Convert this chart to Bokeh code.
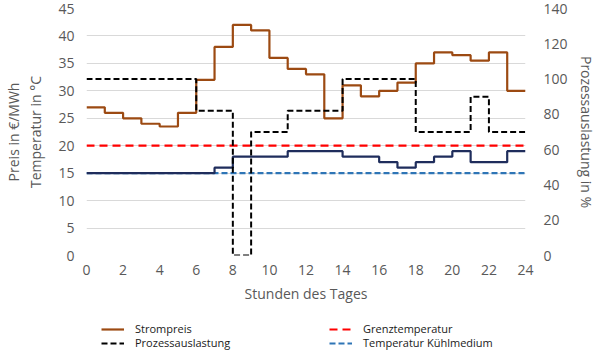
from bokeh.plotting import figure
from bokeh.layouts import column
from bokeh.models import Range1d, LinearAxis, Legend, LegendItem, FixedTicker
from bokeh.embed import file_html
from bokeh.resources import INLINE

hours = list(range(25))
strompreis = [27, 26, 25, 24, 23.5, 26, 32, 38, 42, 41, 36, 34, 33, 25, 31, 29, 30, 31.5,
              35, 37, 36.5, 35.5, 37, 30]
auslastung = [100, 100, 100, 100, 100, 100, 82, 82, 0, 70, 70, 82, 82, 82, 100, 100, 100, 100,
              70, 70, 70, 90, 70, 70]
temperatur = [15, 15, 15, 15, 15, 15, 15, 16, 18, 18, 18, 19, 19, 19, 18, 18, 17, 16,
              17, 18, 19, 17, 17, 19]
grenztemperatur = [20] * 24
kuehlmedium = [15] * 24
x_ticks = list(range(0, 25, 2))
left_ticks = list(range(0, 46, 5))
right_ticks = list(range(0, 141, 20))

FONT = "Open Sans"
TXT = "#595959"

p = figure(width=600, height=308, output_backend="svg", toolbar_location=None,
           x_range=Range1d(0, 24), y_range=Range1d(0, 45),
           min_border_left=86, min_border_right=75, min_border_top=8, min_border_bottom=53)
p.extra_y_ranges = {"pct": Range1d(0, 140)}

def ext(v):
    return v + [v[-1]]

STYLES = {
    "strom": dict(line_color="#9C4A12", line_width=2.2),
    "grenz": dict(line_color="#FF0000", line_width=2.2, line_dash="8 5"),
    "kuehl": dict(line_color="#2E75B6", line_width=2.2, line_dash="6 3"),
    "temp": dict(line_color="#1F2D5C", line_width=2.2),
    "ausl": dict(line_color="#000000", line_width=2, line_dash="6 3"),
}
SERIES = {"strom": strompreis, "grenz": grenztemperatur, "kuehl": kuehlmedium,
          "temp": temperatur, "ausl": auslastung}

for k in ["strom", "grenz", "kuehl", "temp"]:
    p.step(hours, ext(SERIES[k]), mode="after", **STYLES[k])
p.step(hours, ext(auslastung), mode="after", y_range_name="pct", **STYLES["ausl"])

p.outline_line_color = None
p.xgrid.grid_line_color = None
p.ygrid.grid_line_color = "#D9D9D9"
p.ygrid.ticker = FixedTicker(ticks=left_ticks)

p.xaxis.ticker = FixedTicker(ticks=x_ticks)
p.yaxis.ticker = FixedTicker(ticks=left_ticks)
p.xaxis.axis_label = "Stunden des Tages"
p.yaxis.axis_label = "Preis in €/MWh\nTemperatur in °C"

ax_r = LinearAxis(y_range_name="pct", ticker=FixedTicker(ticks=right_ticks),
                  axis_label="Prozessauslastung in %")
p.add_layout(ax_r, "right")

for ax in [p.xaxis[0], p.yaxis[0], ax_r]:
    ax.axis_line_color = None
    ax.major_tick_line_color = None
    ax.minor_tick_line_color = None
    ax.major_tick_out = 0
    ax.major_tick_in = 0
    ax.major_label_text_font = FONT
    ax.major_label_text_font_size = "14px"
    ax.major_label_text_color = TXT
    ax.axis_label_text_font = FONT
    ax.axis_label_text_font_size = "14px"
    ax.axis_label_text_color = TXT
    ax.axis_label_text_font_style = "normal"

p.xaxis.major_label_standoff = 9
p.xaxis.axis_label_standoff = 6
p.yaxis.major_label_standoff = 12
p.yaxis.axis_label_standoff = 10
ax_r.major_label_standoff = 18
ax_r.axis_label_standoff = 6

# legend strip below the chart; its series lie outside its (empty) view range
lf = figure(width=600, height=42, output_backend="svg", toolbar_location=None,
            x_range=Range1d(0, 24), y_range=Range1d(-1000, -999),
            x_axis_type=None, y_axis_type=None,
            min_border_left=0, min_border_right=0, min_border_top=0, min_border_bottom=0)
lf.outline_line_color = None
lf.grid.grid_line_color = None
proxy = {k: lf.line(hours, ext(SERIES[k]), **STYLES[k]) for k in STYLES}

legend_rows = [
    ([("Strompreis", "strom"), ("Grenztemperatur", "grenz")], 14),
    ([("Prozessauslastung", "ausl"), ("Temperatur Kühlmedium", "kuehl")], 0),
]
for row, vy in legend_rows:
    lg = Legend(items=[LegendItem(label=t, renderers=[proxy[k]]) for t, k in row],
                orientation="horizontal", location=(15, vy),
                label_text_font=FONT, label_text_font_size="11px",
                label_text_color="#1A1A1A",
                glyph_width=23, glyph_height=12, label_height=12, label_standoff=11,
                spacing=0, padding=0, margin=0, label_width=194,
                background_fill_alpha=0, border_line_color=None)
    lf.add_layout(lg, "center")

layout = column(p, lf, spacing=0)
open("out.html", "w").write(file_html(layout, INLINE))
